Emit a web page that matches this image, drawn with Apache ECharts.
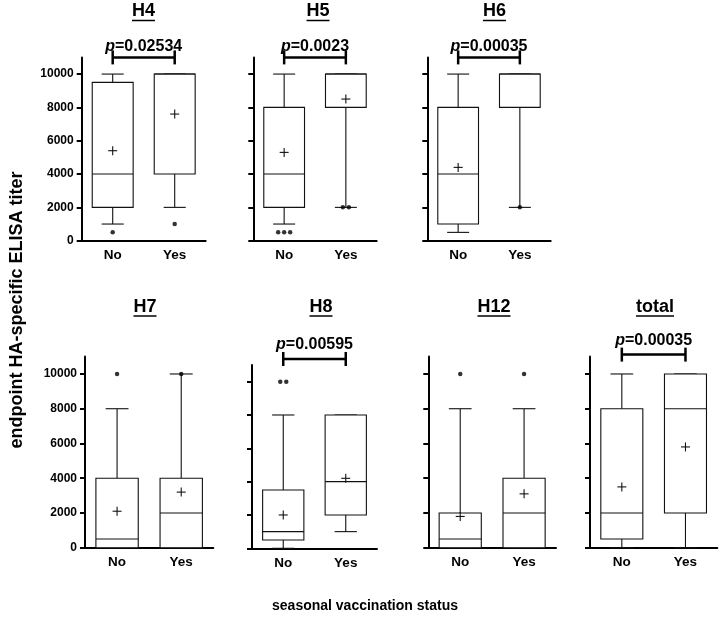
<!DOCTYPE html>
<html><head><meta charset="utf-8">
<script src="https://cdn.jsdelivr.net/npm/echarts@6/dist/echarts.min.js"></script>
<style>html,body{margin:0;padding:0;background:#fff}#c{width:720px;height:618px}</style>
</head><body><div id="c"></div><script>
// ---------- data ----------
const panels = ['H4', 'H5', 'H6', 'H7', 'H8', 'H12', 'total'];
const categories = ['No', 'Yes'];
const yTicks = [0, 2000, 4000, 6000, 8000, 10000];
// [min whisker, Q1, median, Q3, max whisker]
const boxNo = [
  [1000, 2000, 4000, 9500, 10000],
  [1000, 2000, 4000, 8000, 10000],
  [500, 1000, 4000, 8000, 10000],
  [0, 0, 500, 4000, 8000],
  [0, 500, 1000, 3500, 8000],
  [0, 0, 500, 2000, 8000],
  [0, 500, 2000, 8000, 10000]
];
const boxYes = [
  [2000, 4000, 10000, 10000, 10000],
  [2000, 8000, 10000, 10000, 10000],
  [2000, 8000, 10000, 10000, 10000],
  [0, 0, 2000, 4000, 10000],
  [1000, 2000, 4000, 8000, 8000],
  [0, 0, 2000, 4000, 8000],
  [0, 2000, 8000, 10000, 10000]
];
const meanNo = [5400, 5300, 4400, 2100, 2000, 1800, 3500];
const meanYes = [7600, 8500, null, 3200, 4200, 3100, 5800];
const outliersNo = [[500], [500, 500, 500], [], [10000], [10000, 10000], [10000], []];
const outliersYes = [[1000], [2000, 2000], [2000], [10000], [], [10000], []];
const pValues = ['0.02534', '0.0023', '0.00035', null, '0.00595', null, '0.00035'];
const yTitle = 'endpoint HA-specific ELISA titer';
const xTitle = 'seasonal vaccination status';

// ---------- layout ----------
const FONT = "'Liberation Sans', Arial, sans-serif";
const grids = [
  {left: 81.7, top: 57.4, width: 124, height: 183.3},
  {left: 253.3, top: 57.4, width: 123.4, height: 183.3},
  {left: 427.3, top: 57.4, width: 123.4, height: 183.3},
  {left: 85, top: 356.6, width: 128.3, height: 191.1},
  {left: 252, top: 365, width: 125, height: 183.3},
  {left: 428.3, top: 356.6, width: 127.7, height: 191.1},
  {left: 590, top: 356.6, width: 127.3, height: 191.1}
];
const titlePos = [[143.5, 11.5], [318, 11.5], [494.5, 11.5], [145, 307], [321, 307], [494, 307], [655, 307]];
const bracketLift = [0, 0, 0, 0, 6, 0, 2];
const labelLift = [11, 11, 11, 14, 14, 14, 14];

const chart = echarts.init(document.getElementById('c'));
const xAxes = [], yAxes = [], series = [], graphics = [];

const ctx = document.createElement('canvas').getContext('2d');
function textWidth(t, size) { ctx.font = 'bold ' + size + 'px ' + FONT; return ctx.measureText(t).width; }

function renderBox(params, api) {
  const cat = api.value(0);
  const mn = api.value(1), q1 = api.value(2), md = api.value(3), q3 = api.value(4), mx = api.value(5);
  const mean = api.value(6);
  const band = api.size([1, 0])[0];
  const w = band * 0.66, cap = w * 0.27;
  const x = api.coord([cat, 0])[0];
  const y = v => api.coord([cat, v])[1];
  const ls = {stroke: '#111', lineWidth: 1.1};
  const ch = [
    {type: 'line', shape: {x1: x, y1: y(q3), x2: x, y2: y(mx)}, style: ls},
    {type: 'line', shape: {x1: x, y1: y(q1), x2: x, y2: y(mn)}, style: ls},
    {type: 'line', shape: {x1: x - cap, y1: y(mx), x2: x + cap, y2: y(mx)}, style: ls},
    {type: 'line', shape: {x1: x - cap, y1: y(mn), x2: x + cap, y2: y(mn)}, style: ls},
    {type: 'rect', shape: {x: x - w / 2, y: y(q3), width: w, height: y(q1) - y(q3)}, style: {fill: '#fff', stroke: '#111', lineWidth: 1.1}},
    {type: 'line', shape: {x1: x - w / 2, y1: y(md), x2: x + w / 2, y2: y(md)}, style: ls}
  ];
  if (mean !== null && isFinite(mean)) {
    const ym = y(mean);
    ch.push({type: 'line', shape: {x1: x - 4.5, y1: ym, x2: x + 4.5, y2: ym}, style: ls});
    ch.push({type: 'line', shape: {x1: x, y1: ym - 4.5, x2: x, y2: ym + 4.5}, style: ls});
  }
  return {type: 'group', children: ch};
}

panels.forEach((name, i) => {
  xAxes.push({
    gridIndex: i, type: 'category', data: categories,
    axisLine: {lineStyle: {color: '#000', width: 2}},
    axisTick: {alignWithLabel: true, length: 5, lineStyle: {color: '#000', width: 2}},
    axisLabel: {color: '#000', fontWeight: 'bold', fontSize: 13.5, fontFamily: FONT, margin: 8},
    splitLine: {show: false}
  });
  yAxes.push({
    gridIndex: i, type: 'value', min: 0, max: 11000,
    axisLine: {show: true, lineStyle: {color: '#000', width: 2}},
    axisTick: {show: true, length: 5, customValues: yTicks, lineStyle: {color: '#000', width: 2}},
    axisLabel: {show: i === 0 || i === 3, customValues: yTicks, formatter: v => String(v),
      color: '#000', fontWeight: 'bold', fontSize: 12, fontFamily: FONT, margin: 8},
    splitLine: {show: false}
  });
  series.push({
    type: 'custom', xAxisIndex: i, yAxisIndex: i, clip: false, z: 3,
    renderItem: renderBox,
    encode: {x: 0, y: [1, 2, 3, 4, 5]},
    data: [[0].concat(boxNo[i], [meanNo[i]]), [1].concat(boxYes[i], [meanYes[i]])]
  });
  const pts = [];
  [outliersNo[i], outliersYes[i]].forEach((arr, c) => {
    const counts = {};
    arr.forEach(v => counts[v] = (counts[v] || 0) + 1);
    const seen = {};
    arr.forEach(v => {
      const k = seen[v] = (seen[v] || 0) + 1;
      const off = (k - 1 - (counts[v] - 1) / 2) * 6;
      pts.push({value: [c, v], symbolOffset: [off, 0]});
    });
  });
  series.push({
    type: 'scatter', xAxisIndex: i, yAxisIndex: i, symbol: 'circle', symbolSize: 4.5,
    itemStyle: {color: '#000'}, z: 5, silent: true, data: pts
  });
  if (pValues[i]) {
    const lift = bracketLift[i], tl = labelLift[i];
    series.push({
      type: 'custom', xAxisIndex: i, yAxisIndex: i, clip: false, z: 6,
      data: [[0, 1, 11000]],
      renderItem: (params, api) => {
        const a = api.coord([api.value(0), api.value(2)]);
        const b = api.coord([api.value(1), api.value(2)]);
        const yy = a[1] - lift;
        const st = {stroke: '#000', lineWidth: 2.5};
        return {type: 'group', children: [
          {type: 'line', shape: {x1: a[0], y1: yy, x2: b[0], y2: yy}, style: st},
          {type: 'line', shape: {x1: a[0], y1: yy - 7, x2: a[0], y2: yy + 7}, style: st},
          {type: 'line', shape: {x1: b[0], y1: yy - 7, x2: b[0], y2: yy + 7}, style: st},
          {type: 'text', x: (a[0] + b[0]) / 2, y: yy - tl, style: {
            text: '{i|p}{n|=' + pValues[i] + '}', align: 'center', verticalAlign: 'middle',
            rich: {
              i: {fontStyle: 'italic', fontWeight: 'bold', fontSize: 16, fontFamily: FONT, fill: '#000'},
              n: {fontWeight: 'bold', fontSize: 16, fontFamily: FONT, fill: '#000'}
            }
          }}
        ]};
      }
    });
  }
  // panel title with underline
  const tw = textWidth(name, 18);
  const [tx, ty] = titlePos[i];
  graphics.push({type: 'text', x: tx, y: ty, style: {text: name, font: 'bold 18px ' + FONT, fill: '#000', align: 'center', verticalAlign: 'middle'}});
  graphics.push({type: 'line', shape: {x1: tx - tw / 2, y1: ty + 9, x2: tx + tw / 2, y2: ty + 9}, style: {stroke: '#000', lineWidth: 1.5}});
});

graphics.push({type: 'text', x: 17, y: 310, rotation: Math.PI / 2, style: {text: yTitle, font: 'bold 18px ' + FONT, fill: '#000', align: 'center', verticalAlign: 'middle'}});
graphics.push({type: 'text', x: 365, y: 606, style: {text: xTitle, font: 'bold 14px ' + FONT, fill: '#000', align: 'center', verticalAlign: 'middle'}});

chart.setOption({
  animation: false,
  backgroundColor: '#fff',
  grid: grids.map(g => Object.assign({containLabel: false}, g)),
  xAxis: xAxes,
  yAxis: yAxes,
  series: series,
  graphic: graphics
});
</script></body></html>
